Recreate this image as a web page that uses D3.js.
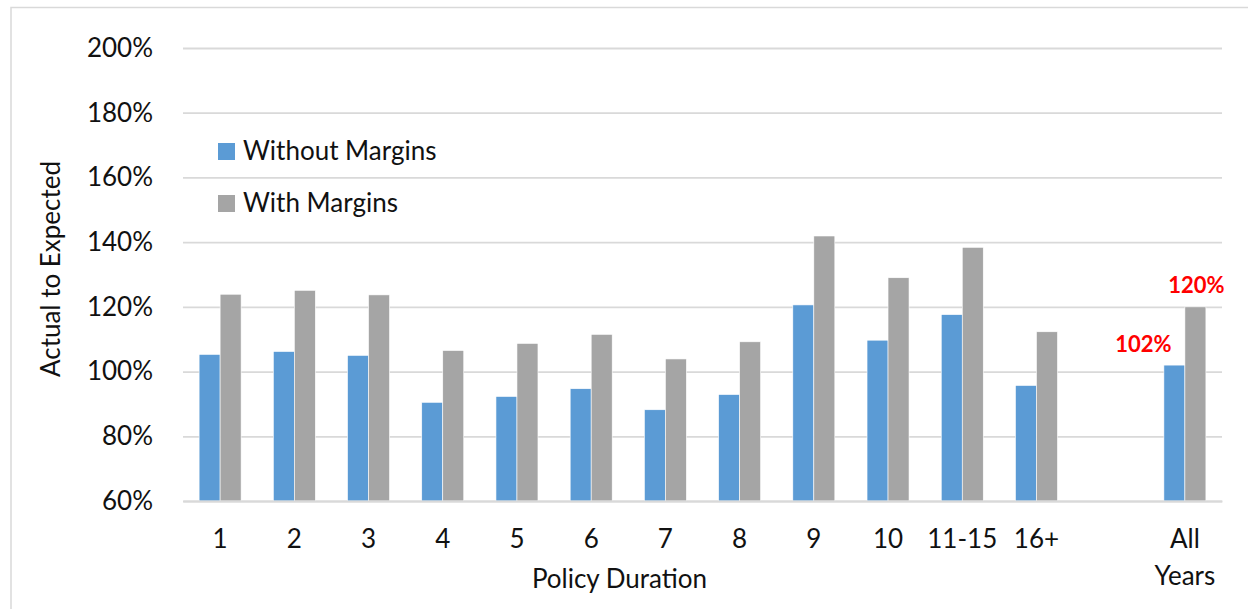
<!DOCTYPE html>
<html>
<head>
<meta charset="utf-8">
<script src="https://cdn.jsdelivr.net/npm/d3@7"></script>
<style>
  body { margin: 0; background: #fff; }
  svg { display: block; font-family: Lato, "Open Sans", sans-serif; }
</style>
</head>
<body>
<div id="vis"></div>
<script>
// data (actual to expected, in percent)
const CATEGORIES = ["1", "2", "3", "4", "5", "6", "7", "8", "9", "10", "11-15", "16+", " ", "All Years"];
const SERIES = ["Without Margins", "With Margins"];
const WITHOUT_MARGINS = [105.3, 106.2, 105.0, 90.5, 92.3, 94.7, 88.2, 92.9, 120.6, 109.7, 117.6, 95.7, null, 102.0];
const WITH_MARGINS = [123.9, 125.1, 123.7, 106.5, 108.7, 111.5, 103.9, 109.2, 141.9, 129.0, 138.4, 112.3, null, 120.0];
const Y_TICKS = [60, 80, 100, 120, 140, 160, 180, 200];
const LABELLED = ["All Years"];

// frame constants
const FRAME_WIDTH = 1248;
const FRAME_HEIGHT = 609;
const MARGINS = {left: 183, right: 26, top: 48, bottom: 108};
const VIS_WIDTH = FRAME_WIDTH - MARGINS.left - MARGINS.right;
const VIS_HEIGHT = FRAME_HEIGHT - MARGINS.top - MARGINS.bottom;

const COLORS = {"Without Margins": "#5b9bd5", "With Margins": "#a5a5a5"};

const FRAME = d3.select("#vis")
                .append("svg")
                  .attr("width", FRAME_WIDTH)
                  .attr("height", FRAME_HEIGHT);

// light border of the chart area
FRAME.append("rect")
      .attr("x", 11)
      .attr("y", 7.5)
      .attr("width", FRAME_WIDTH)
      .attr("height", FRAME_HEIGHT)
      .attr("fill", "none")
      .attr("stroke", "#d9d9d9")
      .attr("stroke-width", 1.5);

// build rows for the grouped bars
const data = CATEGORIES.map((c, i) => {
  return {cat: c, values: [
    {series: SERIES[0], value: WITHOUT_MARGINS[i]},
    {series: SERIES[1], value: WITH_MARGINS[i]}
  ]};
});

// scales
const X_SCALE = d3.scaleBand()
                  .domain(CATEGORIES)
                  .range([0, VIS_WIDTH])
                  .padding(0);
const X_INNER = d3.scaleBand()
                  .domain(SERIES)
                  .range([X_SCALE.bandwidth() * 0.217, X_SCALE.bandwidth() * 0.783]);
const Y_SCALE = d3.scaleLinear()
                  .domain([60, 200])
                  .range([VIS_HEIGHT, 0]);

const G = FRAME.append("g")
                .attr("transform", "translate(" + MARGINS.left + "," + MARGINS.top + ")");

// y axis with gridlines
const yAxis = G.append("g")
                .call(d3.axisLeft(Y_SCALE)
                        .tickValues(Y_TICKS)
                        .tickSize(-VIS_WIDTH)
                        .tickPadding(30)
                        .tickFormat((d) => d + "%"));
yAxis.select(".domain").remove();
yAxis.selectAll("line")
      .attr("stroke", "#d9d9d9")
      .attr("stroke-width", 1.8);
yAxis.selectAll("text")
      .attr("font-family", "Lato, sans-serif")
      .attr("font-size", "26px")
      .attr("fill", "#111");

// bars
G.append("g")
  .selectAll("g")
  .data(data)
  .enter()
  .append("g")
    .attr("transform", (d) => "translate(" + X_SCALE(d.cat) + ",0)")
  .selectAll("rect")
  .data((d) => d.values.filter((v) => v.value !== null))
  .enter()
  .append("rect")
    .attr("x", (d) => X_INNER(d.series))
    .attr("y", (d) => Y_SCALE(d.value))
    .attr("width", X_INNER.bandwidth())
    .attr("height", (d) => VIS_HEIGHT - Y_SCALE(d.value))
    .attr("fill", (d) => COLORS[d.series])
    .attr("stroke", "#fff")
    .attr("stroke-width", 0.6);

// x axis
const xAxis = G.append("g")
                .attr("transform", "translate(0," + VIS_HEIGHT + ")")
                .call(d3.axisBottom(X_SCALE).tickSize(0).tickFormat(() => ""));
xAxis.select(".domain")
      .attr("stroke", "#d9d9d9")
      .attr("stroke-width", 1.8);
xAxis.selectAll(".tick text")
      .attr("dy", null)
      .attr("y", 47)
      .attr("font-family", "Lato, sans-serif")
      .attr("font-size", "26px")
      .attr("fill", "#111")
      .each(function(d) {
        const words = d.trim().split(" ");
        d3.select(this).selectAll("tspan")
          .data(words)
          .enter()
          .append("tspan")
            .attr("x", 0)
            .attr("dy", (w, i) => i === 0 ? 0 : 37)
            .text((w) => w);
      });

// data labels on the all years group
LABELLED.forEach((c) => {
  const row = data.find((d) => d.cat === c);
  G.append("text")
    .attr("x", X_SCALE(c) + X_INNER(SERIES[0]) + X_INNER.bandwidth() / 2 - 31)
    .attr("y", Y_SCALE(row.values[0].value) - 13)
    .attr("text-anchor", "middle")
    .attr("font-family", "Lato, sans-serif")
    .attr("font-weight", "bold")
    .attr("font-size", "22px")
    .attr("fill", "#ff0000")
    .text(Math.round(row.values[0].value) + "%");
  G.append("text")
    .attr("x", X_SCALE(c) + X_INNER(SERIES[1]) + X_INNER.bandwidth() / 2 + 1)
    .attr("y", Y_SCALE(row.values[1].value) - 14)
    .attr("text-anchor", "middle")
    .attr("font-family", "Lato, sans-serif")
    .attr("font-weight", "bold")
    .attr("font-size", "22px")
    .attr("fill", "#ff0000")
    .text(Math.round(row.values[1].value) + "%");
});

// axis titles
FRAME.append("text")
      .attr("x", MARGINS.left + VIS_WIDTH / 2 - 83)
      .attr("y", 588)
      .attr("text-anchor", "middle")
      .attr("font-size", "26px")
      .attr("fill", "#111")
      .text("Policy Duration");

FRAME.append("text")
      .attr("transform", "translate(60,269) rotate(-90)")
      .attr("text-anchor", "middle")
      .attr("font-size", "26px")
      .attr("fill", "#111")
      .text("Actual to Expected");

// legend
const LEGEND = FRAME.append("g")
                    .attr("transform", "translate(218,143)");
LEGEND.selectAll("rect")
      .data(SERIES)
      .enter()
      .append("rect")
        .attr("x", 0)
        .attr("y", (d, i) => i * 52)
        .attr("width", 17)
        .attr("height", 17)
        .attr("fill", (d) => COLORS[d]);
LEGEND.selectAll("text")
      .data(SERIES)
      .enter()
      .append("text")
        .attr("x", 25)
        .attr("y", (d, i) => i * 52 + 17)
        .attr("font-size", "26px")
        .attr("fill", "#111")
        .text((d) => d);
</script>
</body>
</html>
